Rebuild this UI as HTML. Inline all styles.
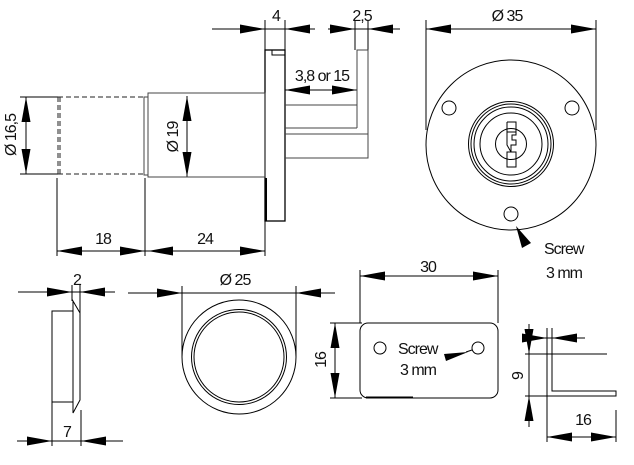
<!DOCTYPE html>
<html><head><meta charset="utf-8"><style>
html,body{margin:0;padding:0;background:#fff;}
svg{display:block;}
text{font-family:"Liberation Sans",sans-serif;font-size:16px;fill:#111;letter-spacing:-1px;}
</style></head><body>
<svg width="634" height="465" viewBox="0 0 634 465" xmlns="http://www.w3.org/2000/svg">
<defs>
<marker id="a" markerUnits="userSpaceOnUse" markerWidth="25" markerHeight="9" refX="25" refY="4.5" orient="auto" viewBox="0 0 25 9">
<path d="M0,0 L25,4.5 L0,9 z" fill="#000"/>
</marker>
</defs>
<g stroke="#000" stroke-width="1" fill="none">
<line x1="212" y1="29" x2="315" y2="29"/>
<line x1="328" y1="29" x2="400" y2="29"/>
<line x1="285" y1="90" x2="357" y2="90"/>
<line x1="26" y1="97" x2="26" y2="174"/>
<line x1="187" y1="96" x2="187" y2="177"/>
<line x1="57" y1="251" x2="265" y2="251"/>
<line x1="426" y1="29" x2="596" y2="29"/>
<line x1="18" y1="292" x2="115" y2="292"/>
<line x1="17" y1="441" x2="123" y2="441"/>
<line x1="128" y1="293" x2="335" y2="293"/>
<line x1="360" y1="276" x2="498" y2="276"/>
<line x1="335" y1="323" x2="335" y2="398"/>
<line x1="527" y1="338" x2="585" y2="338"/>
<line x1="529" y1="324" x2="529" y2="427"/>
<line x1="547" y1="437" x2="616" y2="437"/>
<line x1="265" y1="20" x2="265" y2="50"/>
<line x1="285" y1="20" x2="285" y2="50"/>
<line x1="355" y1="20" x2="355" y2="50"/>
<line x1="368" y1="20" x2="368" y2="50"/>
<line x1="20" y1="97" x2="58" y2="97"/>
<line x1="20" y1="174" x2="58" y2="174"/>
<line x1="57" y1="178" x2="57" y2="256"/>
<line x1="145" y1="178" x2="145" y2="256"/>
<line x1="265" y1="221" x2="265" y2="256"/>
<line x1="426" y1="20" x2="426" y2="130"/>
<line x1="596" y1="20" x2="596" y2="130"/>
<line x1="72" y1="285" x2="72" y2="301"/>
<line x1="80" y1="285" x2="80" y2="313"/>
<line x1="52" y1="402" x2="52" y2="446"/>
<line x1="81" y1="410" x2="81" y2="446"/>
<line x1="182" y1="286" x2="182" y2="357"/>
<line x1="296" y1="286" x2="296" y2="357"/>
<line x1="360" y1="270" x2="360" y2="323"/>
<line x1="498" y1="270" x2="498" y2="323"/>
<line x1="330" y1="323" x2="362" y2="323"/>
<line x1="330" y1="398" x2="362" y2="398"/>
<line x1="547" y1="328" x2="547" y2="354"/>
<line x1="552" y1="328" x2="552" y2="354"/>
<line x1="525" y1="354" x2="607" y2="354"/>
<line x1="525" y1="396" x2="547" y2="396"/>
<line x1="547" y1="396" x2="547" y2="442"/>
<line x1="616" y1="410" x2="616" y2="442"/>
</g>
<g stroke="#000" stroke-width="1" marker-end="url(#a)">
<line x1="238" y1="29" x2="265" y2="29"/>
<line x1="312" y1="29" x2="285" y2="29"/>
<line x1="328" y1="29" x2="355" y2="29"/>
<line x1="395" y1="29" x2="368" y2="29"/>
<line x1="312" y1="90" x2="285" y2="90"/>
<line x1="330" y1="90" x2="357" y2="90"/>
<line x1="26" y1="124" x2="26" y2="97"/>
<line x1="26" y1="147" x2="26" y2="174"/>
<line x1="187" y1="123" x2="187" y2="96"/>
<line x1="187" y1="150" x2="187" y2="177"/>
<line x1="84" y1="251" x2="57" y2="251"/>
<line x1="118" y1="251" x2="145" y2="251"/>
<line x1="175" y1="251" x2="148" y2="251"/>
<line x1="238" y1="251" x2="265" y2="251"/>
<line x1="453" y1="29" x2="426" y2="29"/>
<line x1="569" y1="29" x2="596" y2="29"/>
<line x1="45" y1="292" x2="72" y2="292"/>
<line x1="107" y1="292" x2="80" y2="292"/>
<line x1="25" y1="441" x2="52" y2="441"/>
<line x1="108" y1="441" x2="81" y2="441"/>
<line x1="155" y1="293" x2="182" y2="293"/>
<line x1="323" y1="293" x2="296" y2="293"/>
<line x1="387" y1="276" x2="360" y2="276"/>
<line x1="471" y1="276" x2="498" y2="276"/>
<line x1="335" y1="350" x2="335" y2="323"/>
<line x1="335" y1="371" x2="335" y2="398"/>
<line x1="527" y1="338" x2="547" y2="338"/>
<line x1="578" y1="338" x2="552" y2="338"/>
<line x1="529" y1="330" x2="529" y2="354"/>
<line x1="529" y1="421" x2="529" y2="396"/>
<line x1="574" y1="437" x2="547" y2="437"/>
<line x1="589" y1="437" x2="616" y2="437"/>
</g>
<g stroke="#000" stroke-width="1" fill="none">
<rect x="265" y="50" width="20" height="171" stroke-width="1.3"/>
<line x1="266" y1="178" x2="266" y2="221" stroke-width="2"/>
<polyline points="272,50 272,55 285,55"/>
<rect x="148" y="93" width="117" height="84" stroke="#444"/>
<rect x="144" y="97" width="4" height="78" stroke="#444"/>
<g stroke-dasharray="5,3" stroke="#222">
<line x1="58" y1="97" x2="144" y2="97"/>
<line x1="58" y1="174" x2="144" y2="174"/>
<line x1="58" y1="97" x2="58" y2="174"/>
<line x1="60" y1="97" x2="60" y2="174"/>
</g>
<polyline points="285,105 357,105 357,50 368,50 368,158 285,158" stroke="#444"/>
<line x1="285" y1="128" x2="357" y2="128" stroke="#444"/>
<line x1="357" y1="105" x2="357" y2="128" stroke="#444"/>
<line x1="285" y1="134" x2="368" y2="134" stroke="#444"/>
<circle cx="511" cy="145" r="85"/>
<circle cx="449" cy="108" r="7"/>
<circle cx="572" cy="108" r="7"/>
<circle cx="511" cy="214" r="7"/>
<circle cx="511" cy="144" r="42.5"/>
<circle cx="511" cy="144" r="40"/>
<circle cx="511" cy="144" r="37"/>
<circle cx="511" cy="144" r="31"/>
<circle cx="511" cy="144" r="15.5"/>
<polyline points="507,122 516,122 516,135 512,135 512,140 516,140 516,145 511,145 511,152 516,152 516,167 507,167 507,152 511,152 507,145 507,122"/>
<line x1="507" y1="132" x2="516" y2="132"/>
<rect x="52" y="311" width="21" height="91"/>
<polygon points="73,301 80,313 80,400 73,413"/>
<circle cx="239" cy="357" r="57"/>
<circle cx="239" cy="357" r="47.5"/>
<circle cx="239" cy="357" r="45"/>
<rect x="360" y="323" width="138" height="75" rx="8"/>
<line x1="366" y1="397.5" x2="413" y2="397.5" stroke-width="2"/>
<circle cx="380" cy="348" r="6"/>
<circle cx="478" cy="348" r="6"/>
<line x1="466" y1="352" x2="472" y2="350"/>
<polyline points="547,396 547,354 552,354 552,391 616,391 616,396 547,396"/>
</g>
<polygon points="444,354 446,361 468,352" fill="#000"/>
<polygon points="516,226 522,248 531,243" fill="#000"/>
<text x="276" y="21" text-anchor="middle">4</text>
<text x="362" y="21" text-anchor="middle">2,5</text>
<text x="322" y="81" text-anchor="middle">3,8 or 15</text>
<text transform="translate(16,135) rotate(-90)" text-anchor="middle">Ø 16,5</text>
<text transform="translate(178,137) rotate(-90)" text-anchor="middle">Ø 19</text>
<text x="103" y="244" text-anchor="middle">18</text>
<text x="205" y="244" text-anchor="middle">24</text>
<text x="507" y="21" text-anchor="middle">Ø 35</text>
<text x="544" y="254">Screw</text>
<text x="546" y="278">3 mm</text>
<text x="77" y="285" text-anchor="middle">2</text>
<text x="67" y="437" text-anchor="middle">7</text>
<text x="235" y="285" text-anchor="middle">Ø 25</text>
<text x="428" y="272" text-anchor="middle">30</text>
<text x="398" y="354">Screw</text>
<text x="400" y="375">3 mm</text>
<text transform="translate(326,360) rotate(-90)" text-anchor="middle">16</text>
<text transform="translate(523,376) rotate(-90)" text-anchor="middle">9</text>
<text x="583" y="425" text-anchor="middle">16</text>
</svg>
</body></html>
